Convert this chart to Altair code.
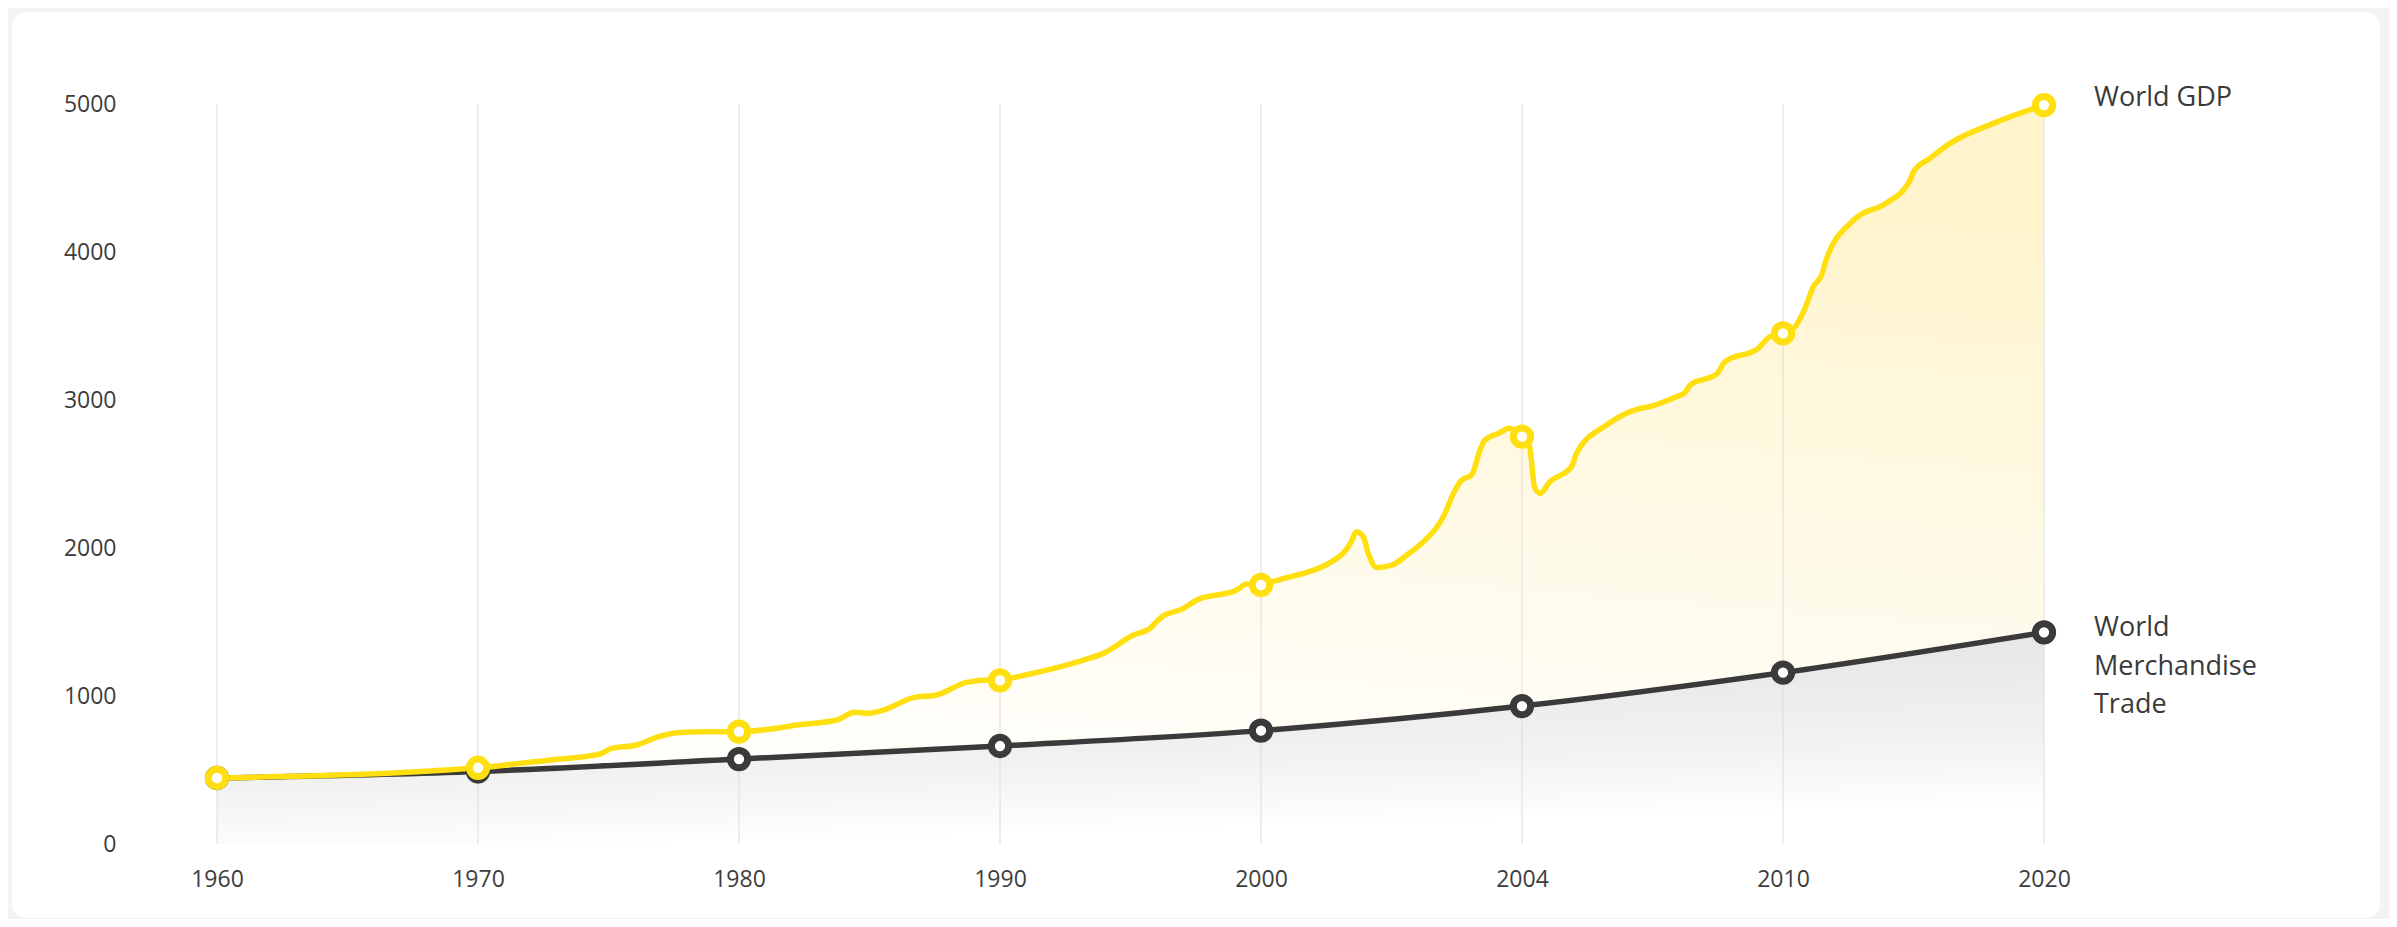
import altair as alt
import pandas as pd

# ---- data ----
years = ["1960", "1970", "1980", "1990", "2000", "2004", "2010", "2020"]
gdp_main = [446, 515, 759, 1105, 1750, 2752, 3450, 4993]
trade_main = [446, 490, 574, 662, 766, 932, 1158, 1430]

# detailed World GDP path (position on the evenly spaced year axis, value)
gdp_pos = [0, 1, 1.276, 1.467, 1.512, 1.608, 1.685, 1.761, 1.863, 2, 2.144, 2.221,
           2.374, 2.444, 2.489, 2.553, 2.668, 2.757, 2.872, 2.962, 3, 3.051, 3.243,
           3.319, 3.396, 3.511, 3.575, 3.613, 3.703, 3.754, 3.907, 3.945, 4, 4.057,
           4.303, 4.346, 4.365, 4.392, 4.411, 4.443, 4.501, 4.564, 4.616, 4.705,
           4.737, 4.769, 4.807, 4.839, 4.858, 4.916, 4.950, 5, 5.029, 5.048, 5.069,
           5.107, 5.190, 5.209, 5.324, 5.439, 5.497, 5.593, 5.625, 5.644, 5.746,
           5.778, 5.905, 5.950, 6, 6.046, 6.084, 6.116, 6.148, 6.161, 6.257, 6.295,
           6.384, 6.487, 6.500, 6.563, 6.640, 6.806, 7]
gdp_val = [446, 515, 568, 608, 646, 669, 721, 752, 759, 759, 782, 804,
           838, 890, 883, 905, 989, 1007, 1092, 1108, 1105, 1124, 1203,
           1243, 1288, 1412, 1457, 1525, 1592, 1649, 1716, 1757, 1750, 1779,
           1946, 2043, 2110, 2077, 1964, 1869, 1885, 1959, 2032, 2234,
           2369, 2459, 2493, 2662, 2730, 2779, 2809, 2752, 2685, 2414, 2369,
           2448, 2550, 2640, 2831, 2937, 2959, 3023, 3050, 3101, 3176,
           3259, 3349, 3428, 3450, 3495, 3619, 3766, 3845, 3923, 4194, 4250,
           4318, 4486, 4543, 4633, 4734, 4869, 4993]

series_labels = ["World GDP", "World\nMerchandise\nTrade"]

main = pd.DataFrame({"pos": list(range(len(years))), "year": years,
                     "gdp": gdp_main, "trade": trade_main})
path = pd.DataFrame({"pos": gdp_pos, "gdp": gdp_val})
last = main[main["pos"] == len(years) - 1]
lab_gdp = pd.DataFrame({"pos": last["pos"], "val": last["gdp"], "label": [series_labels[0]]})
lab_trade = pd.DataFrame({"pos": last["pos"], "val": last["trade"], "label": [series_labels[1]]})

YELLOW = "#FFDF10"
DARK = "#3a3a3a"
FONT = "Open Sans"

label_expr = "[" + ",".join("'%s'" % y for y in years) + "][datum.value]"

xs = alt.Scale(domain=[0, len(years) - 1], nice=False, zero=False)
ys = alt.Scale(domain=[0, 5000], nice=False)

x_enc = alt.X("pos:Q", scale=xs,
              axis=alt.Axis(values=list(range(len(years))), labelExpr=label_expr,
                            title=None, grid=False, domain=False, ticks=False, tickSize=0,
                            labelPadding=24, labelBaseline="top", labelFlush=False,
                            labelOverlap=False, zindex=2))
y_enc = alt.Y("gdp:Q", scale=ys,
              axis=alt.Axis(values=[0, 1000, 2000, 3000, 4000, 5000], format="d",
                            title=None, grid=False, domain=False, ticks=False, tickSize=0,
                            labelPadding=101, labelFlush=False, zindex=2))

card = alt.Chart(alt.Data(values=[{}])).mark_rect(
    fill="white", cornerRadius=14
).encode(x=alt.value(-205), x2=alt.value(2163), y=alt.value(-92), y2=alt.value(814))

yellow_grad = alt.Gradient(
    gradient="linear",
    stops=[alt.GradientStop(color="#ffffff", offset=0),
           alt.GradientStop(color="#fffdf5", offset=0.3),
           alt.GradientStop(color="#fff9e2", offset=0.65),
           alt.GradientStop(color="#fff4cc", offset=1)],
    x1=0, y1=1, x2=0.2, y2=0)

gray_grad = alt.Gradient(
    gradient="linear",
    stops=[alt.GradientStop(color="#e3e3e3", offset=0),
           alt.GradientStop(color="#e9e9e9", offset=0.35),
           alt.GradientStop(color="#f2f2f2", offset=0.7),
           alt.GradientStop(color="#fafafa", offset=0.9),
           alt.GradientStop(color="#ffffff", offset=1)],
    x1=0, y1=0, x2=0.25, y2=1)

gdp_area = alt.Chart(path).mark_area(interpolate="monotone", color=yellow_grad).encode(
    x=x_enc, y=y_enc)
trade_area = alt.Chart(main).mark_area(interpolate="monotone", color=gray_grad).encode(
    x=alt.X("pos:Q", scale=xs), y=alt.Y("trade:Q", scale=ys))

grid = alt.Chart(main).mark_rule(color="#dcdcdc", strokeWidth=1).encode(
    x=alt.X("pos:Q", scale=xs), y=alt.datum(0), y2=alt.datum(5000))

trade_line = alt.Chart(main).mark_line(interpolate="monotone", color=DARK, strokeWidth=5.5).encode(
    x=alt.X("pos:Q", scale=xs), y=alt.Y("trade:Q", scale=ys))
gdp_line = alt.Chart(path).mark_line(interpolate="monotone", color=YELLOW, strokeWidth=5.5).encode(
    x=alt.X("pos:Q", scale=xs), y=alt.Y("gdp:Q", scale=ys))

trade_pts = alt.Chart(main).mark_point(
    shape="circle", filled=True, fill="white", stroke=DARK, strokeWidth=7, size=300, opacity=1
).encode(x=alt.X("pos:Q", scale=xs), y=alt.Y("trade:Q", scale=ys))
gdp_pts = alt.Chart(main).mark_point(
    shape="circle", filled=True, fill="white", stroke=YELLOW, strokeWidth=7, size=300, opacity=1
).encode(x=alt.X("pos:Q", scale=xs), y=alt.Y("gdp:Q", scale=ys))

gdp_lab = alt.Chart(lab_gdp).mark_text(
    align="left", baseline="middle", dx=50, dy=-7, font=FONT, fontSize=27, color=DARK
).encode(x=alt.X("pos:Q", scale=xs), y=alt.Y("val:Q", scale=ys), text="label:N")
trade_lab = alt.Chart(lab_trade).mark_text(
    align="left", baseline="middle", dx=50, dy=-4, font=FONT, fontSize=27, color=DARK,
    lineBreak="\n", lineHeight=38.5
).encode(x=alt.X("pos:Q", scale=xs), y=alt.Y("val:Q", scale=ys), text="label:N")

chart = alt.layer(
    card, gdp_area, trade_area, grid, trade_line, gdp_line, trade_pts, gdp_pts, gdp_lab, trade_lab
).properties(
    width=1827, height=740,
    padding={"left": 209, "top": 96, "right": 345, "bottom": 75},
    autosize=alt.AutoSizeParams(type="none"),
    background="#f3f3f3",
).configure_view(stroke=None).configure_axis(
    labelFont=FONT, labelFontSize=23, labelColor="#3d3d3d"
)

chart.save("out.html", embed_options={"renderer": "svg", "actions": False})
